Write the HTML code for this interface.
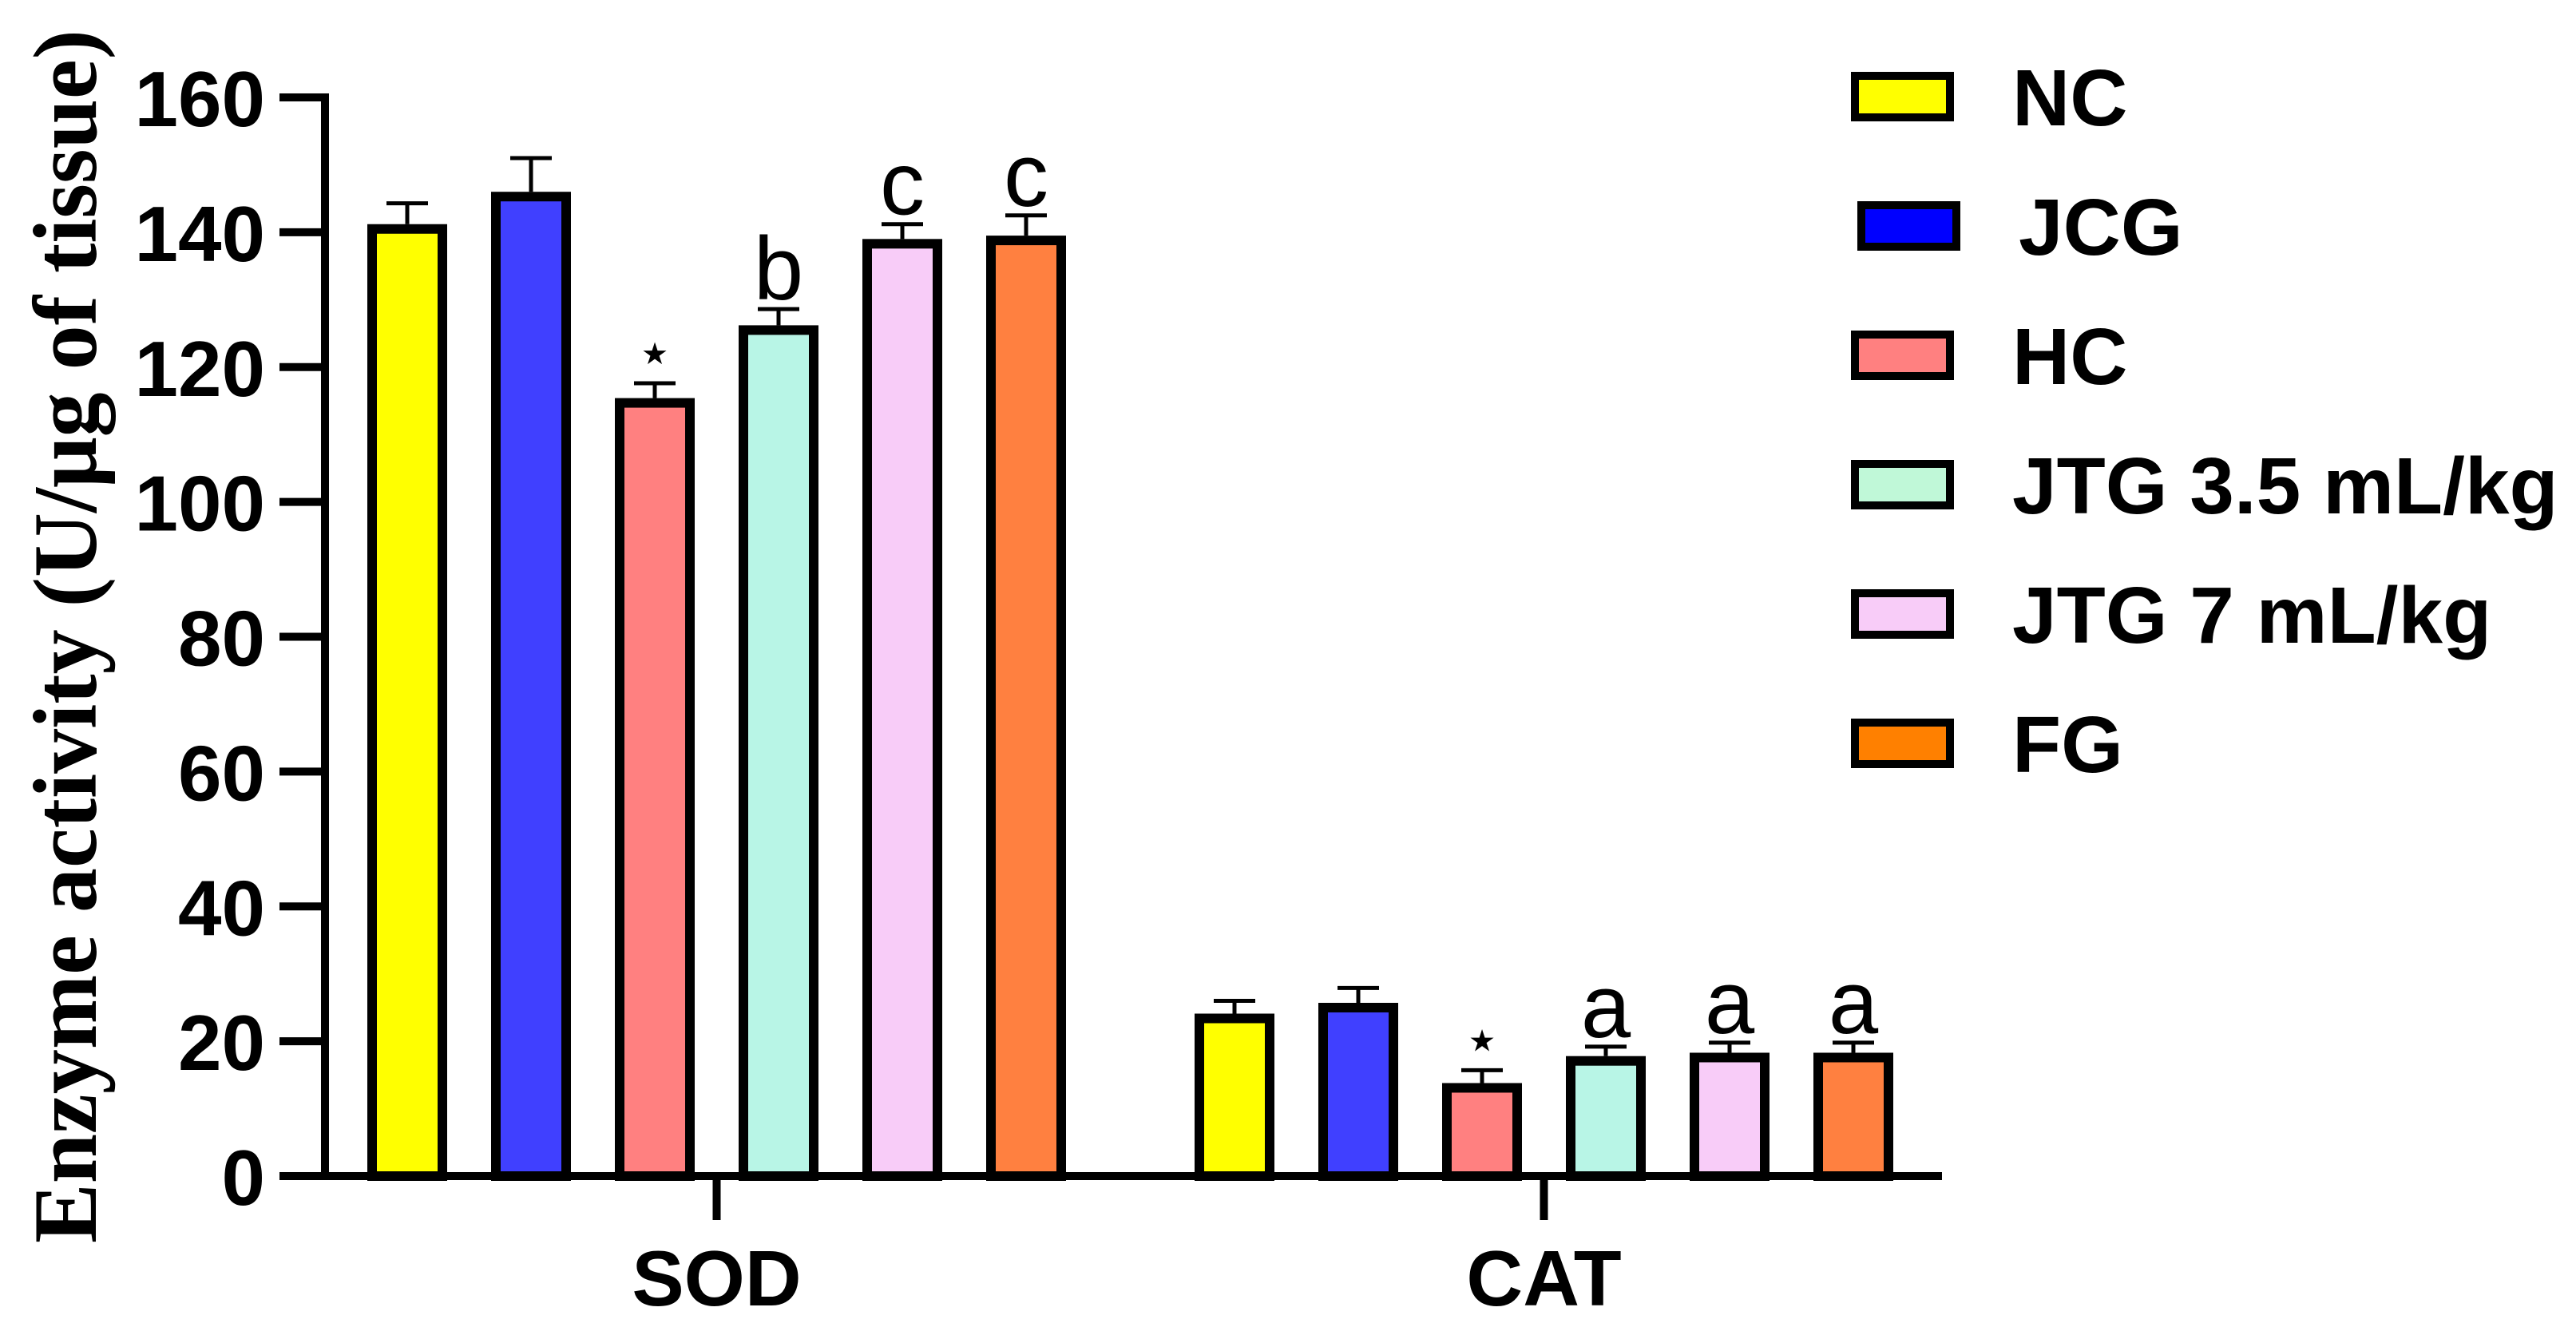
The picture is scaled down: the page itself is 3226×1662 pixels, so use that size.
<!DOCTYPE html>
<html><head><meta charset="utf-8"><style>
html,body{margin:0;padding:0;background:#fff}
svg{display:block}
text{font-family:"Liberation Sans",Arial,sans-serif}
</style></head><body>
<svg id="chart" width="3226" height="1662" viewBox="0 0 3226 1662" xmlns="http://www.w3.org/2000/svg">
<g id="plot"></g>
<g id="legend"></g>
</svg>
<script>
const categories = ["SOD", "CAT"];
const groups = ["NC", "JCG", "HC", "JTG 3.5 mL/kg", "JTG 7 mL/kg", "FG"];
const sodValues = [141.2, 146.0, 115.4, 126.2, 139.0, 139.5];
const sodErrors = [3.1, 5.0, 2.2, 2.4, 2.2, 3.0];
const catValues = [24.1, 25.7, 13.8, 17.8, 18.3, 18.3];
const catErrors = [1.9, 2.2, 1.9, 1.4, 1.5, 1.5];
const sodMarks = ["", "", "*", "b", "c", "c"];
const catMarks = ["", "", "*", "a", "a", "a"];
const yTicks = [0, 20, 40, 60, 80, 100, 120, 140, 160];
const barColors = ["#ffff00", "#4040ff", "#ff8080", "#b8f5e6", "#f8ccf8", "#ff8040"];
const legendColors = ["#ffff00", "#0000ff", "#ff8080", "#c0f8d8", "#f8ccf8", "#ff8000"];

const NS = "http://www.w3.org/2000/svg";
const plot = document.getElementById('plot');
const legend = document.getElementById('legend');
const Y0 = 1473, YTOP = 122, VMAX = 160;
const AXX = 407;
function y(v){ return Y0 - (v / VMAX) * (Y0 - YTOP); }
const groupStart = [460, 1496];
const STEP = 155, BW = 100, BORDER = 12;
function barLeft(ci, gi){ return groupStart[ci] + gi * STEP; }
function mk(tag, attrs, parent){ const e = document.createElementNS(NS, tag); for (const k in attrs) e.setAttribute(k, attrs[k]); parent.appendChild(e); return e; }

// y-axis title
const yt = mk('text', {x: 0, y: 0, transform: 'translate(120,1557) rotate(-90)', 'font-size': 113, 'font-weight': 'bold', textLength: 1520, lengthAdjust: 'spacingAndGlyphs', style: 'font-family:"Liberation Serif","Times New Roman",serif'}, plot);
yt.textContent = "Enzyme activity (U/\u03bcg of tissue)";



// y ticks
yTicks.forEach(t => {
  const ln = mk('line', {x1: 350, x2: AXX, y1: y(t), y2: y(t), stroke: '#000', 'stroke-width': 10}, plot);
  
  
  const tx = mk('text', {x: 332, y: y(t) + 36, 'text-anchor': 'end', 'font-size': 98, 'font-weight': 'bold'}, plot);
  tx.textContent = String(t);
  
  
});

// axes
const ya = mk('line', {x1: AXX, x2: AXX, y1: YTOP - 5, y2: Y0 + 5, stroke: '#000', 'stroke-width': 10}, plot);



const allValues = [sodValues, catValues];
const allErrors = [sodErrors, catErrors];
const allMarks = [sodMarks, catMarks];

categories.forEach((cat, ci) => {
  groups.forEach((g, gi) => {
    const v = allValues[ci][gi], e = allErrors[ci][gi];
    const xl = barLeft(ci, gi), cx = xl + BW / 2;
    // error bar
    const st = mk('line', {x1: cx, x2: cx, y1: y(v), y2: y(v + e), stroke: '#000', 'stroke-width': 5}, plot);
    
    
    const cap = mk('line', {x1: cx - 26, x2: cx + 26, y1: y(v + e), y2: y(v + e), stroke: '#000', 'stroke-width': 5}, plot);
    
    
    const r = mk('rect', {x: xl + BORDER / 2, y: y(v) + BORDER / 2, width: BW - BORDER, height: Math.max(0, Y0 - y(v) - BORDER / 2), fill: barColors[gi], stroke: '#000', 'stroke-width': BORDER}, plot);
    
    
    const m = allMarks[ci][gi];
    if (m === '*') {
      const s = mk('text', {x: cx, y: y(v + e) - 24, 'text-anchor': 'middle', 'font-size': 38, style: 'font-family:"DejaVu Sans",sans-serif'}, plot);
      s.textContent = '\u2605';
      
      
    } else if (m) {
      const s = mk('text', {x: cx, y: y(v + e) - 12, 'text-anchor': 'middle', 'font-size': 112}, plot);
      s.textContent = m;
      
      
    }
  });
  const gc = groupStart[ci] + (groups.length - 1) * STEP / 2 + BW / 2;
  const tk = mk('line', {x1: gc, x2: gc, y1: Y0, y2: 1528, stroke: '#000', 'stroke-width': 10}, plot);
  
  
  const lb = mk('text', {x: gc, y: 1635, 'text-anchor': 'middle', 'font-size': 98, 'font-weight': 'bold'}, plot);
  lb.textContent = cat;
  
  
});

const xa = mk('line', {x1: 350, x2: 2432, y1: Y0, y2: Y0, stroke: '#000', 'stroke-width': 10}, plot);



// legend
groups.forEach((g, gi) => {
  const base = 157 + gi * 162;
  const off = gi === 1 ? 8 : 0;
  const box = mk('rect', {x: 2323 + off, y: base - 62, width: 119, height: 52, fill: legendColors[gi], stroke: '#000', 'stroke-width': 10}, legend);
  
  
  const t = mk('text', {x: 2520 + off, y: base, 'font-size': 100, 'font-weight': 'bold'}, legend);
  t.textContent = g;
  
  
});
</script>
</body></html>
